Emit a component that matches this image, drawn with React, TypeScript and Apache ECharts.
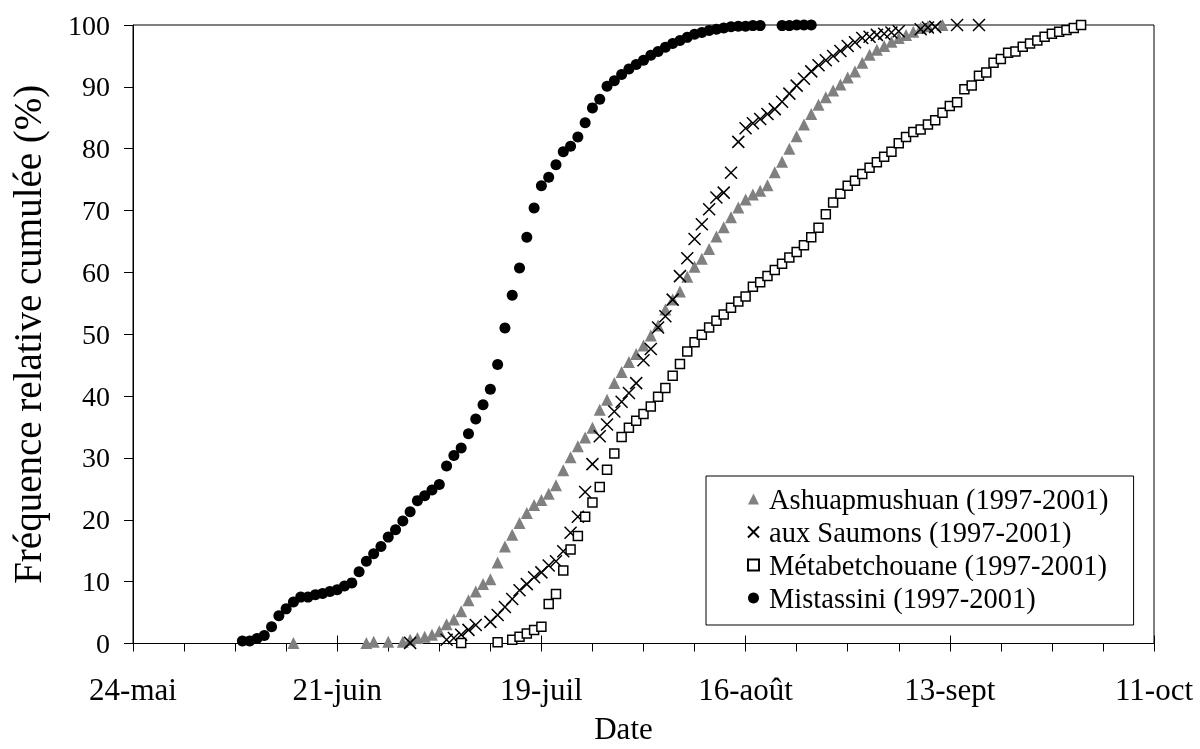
import { useEffect, useRef } from "react";
import * as echarts from "echarts";

// x values are days counted from 24 May
const tickLabels = ["24-mai", "21-juin", "19-juil", "16-août", "13-sept", "11-oct"];

const seriesNames = [
  "Ashuapmushuan (1997-2001)",
  "aux Saumons (1997-2001)",
  "Métabetchouane (1997-2001)",
  "Mistassini (1997-2001)",
];

const ashuapDays = [22, 32, 33, 35, 37, 38, 39, 40, 41, 42, 43, 44, 45, 46, 47, 48, 49, 50, 51, 52, 53, 54, 55, 56, 57, 58, 59, 60, 61, 62, 63, 64, 65, 66, 67, 68, 69, 70, 71, 72, 73, 74, 75, 76, 77, 78, 79, 80, 81, 82, 83, 84, 85, 86, 87, 88, 89, 90, 91, 92, 93, 94, 95, 96, 97, 98, 99, 100, 101, 102, 103, 104, 105, 106, 107, 108, 109, 111];
const ashuapPct = [0.1, 0.1, 0.3, 0.3, 0.3, 0.6, 0.9, 1.1, 1.4, 2.0, 3.1, 3.9, 5.2, 7.0, 8.4, 9.6, 10.4, 13.1, 15.7, 17.6, 19.5, 21.1, 22.4, 23.2, 24.2, 25.6, 28.0, 30.1, 31.9, 33.3, 34.9, 37.8, 39.4, 42.1, 43.9, 45.5, 46.8, 48.2, 49.8, 51.4, 54.0, 55.6, 56.9, 59.3, 60.9, 62.2, 63.8, 65.8, 67.3, 68.9, 70.5, 71.8, 72.6, 73.2, 74.1, 76.2, 77.9, 80.0, 82.0, 83.9, 85.6, 87.1, 88.3, 89.4, 90.4, 91.5, 92.5, 93.9, 95.2, 96.0, 96.6, 97.3, 97.9, 98.4, 98.9, 99.5, 99.8, 100];

const saumonsDays = [38, 43, 44, 45, 46, 47, 49, 50, 51, 52, 53, 54, 55, 56, 57, 58, 59, 60, 61, 62, 63, 64, 65, 66, 67, 68, 69, 70, 71, 72, 73, 74, 75, 76, 77, 78, 79, 80, 81, 82, 83, 84, 85, 86, 87, 88, 89, 90, 91, 92, 93, 94, 95, 96, 97, 98, 99, 100, 101, 102, 103, 104, 105, 108, 109, 110, 113, 116];
const saumonsPct = [0.1, 0.6, 0.9, 1.4, 2.2, 3.0, 3.5, 4.6, 5.9, 7.2, 8.6, 9.6, 10.7, 11.5, 12.6, 13.3, 14.9, 17.9, 20.5, 24.5, 29.0, 33.5, 35.4, 37.5, 39.1, 40.5, 42.1, 45.8, 47.6, 51.1, 52.9, 55.6, 59.4, 62.3, 65.4, 67.8, 70.2, 72.1, 72.9, 76.1, 81.1, 83.3, 84.1, 84.8, 85.6, 86.4, 87.6, 88.9, 90.2, 91.3, 92.5, 93.5, 94.3, 95.0, 95.8, 96.6, 97.2, 97.9, 98.1, 98.4, 98.6, 98.8, 99.0, 99.3, 99.6, 99.7, 100, 100];

const metabDays = [45, 50, 52, 53, 54, 55, 56, 57, 58, 59, 60, 61, 62, 63, 64, 65, 66, 67, 68, 69, 70, 71, 72, 73, 74, 75, 76, 77, 78, 79, 80, 81, 82, 83, 84, 85, 86, 87, 88, 89, 90, 91, 92, 93, 94, 95, 96, 97, 98, 99, 100, 101, 102, 103, 104, 105, 106, 107, 108, 109, 110, 111, 112, 113, 114, 115, 116, 117, 118, 119, 120, 121, 122, 123, 124, 125, 126, 127, 128, 129, 130];
const metabPct = [0.1, 0.2, 0.6, 1.1, 1.6, 2.2, 2.7, 6.4, 8.0, 11.8, 15.2, 17.4, 20.5, 22.8, 25.3, 28.1, 30.7, 33.4, 34.9, 36.0, 37.1, 38.3, 39.9, 41.3, 43.3, 45.2, 47.2, 48.7, 49.9, 51.1, 52.2, 53.2, 54.3, 55.3, 56.1, 57.7, 58.4, 59.4, 60.4, 61.4, 62.4, 63.3, 64.4, 65.7, 67.2, 69.4, 71.3, 72.7, 74.0, 74.8, 75.9, 76.9, 77.8, 78.7, 79.5, 80.9, 81.9, 82.7, 83.1, 83.9, 84.6, 85.8, 86.9, 87.5, 89.6, 90.2, 91.8, 92.3, 93.9, 94.5, 95.5, 95.7, 96.5, 97.0, 97.5, 98.1, 98.6, 98.9, 99.2, 99.5, 100];

const mistDays = [15, 16, 17, 18, 19, 20, 21, 22, 23, 24, 25, 26, 27, 28, 29, 30, 31, 32, 33, 34, 35, 36, 37, 38, 39, 40, 41, 42, 43, 44, 45, 46, 47, 48, 49, 50, 51, 52, 53, 54, 55, 56, 57, 58, 59, 60, 61, 62, 63, 64, 65, 66, 67, 68, 69, 70, 71, 72, 73, 74, 75, 76, 77, 78, 79, 80, 81, 82, 83, 84, 85, 86, 89, 90, 91, 92, 93];
const mistPct = [0.4, 0.4, 0.8, 1.3, 2.7, 4.5, 5.6, 6.7, 7.5, 7.5, 7.9, 8.1, 8.4, 8.7, 9.3, 9.8, 11.6, 13.3, 14.5, 15.7, 17.2, 18.4, 19.8, 21.3, 23.1, 23.9, 24.8, 25.7, 28.7, 30.4, 31.6, 33.9, 36.3, 38.6, 41.1, 45.1, 51.0, 56.3, 60.7, 65.7, 70.4, 74.0, 75.4, 77.4, 79.5, 80.4, 81.9, 84.2, 86.6, 88.0, 90.1, 91.0, 92.0, 92.9, 93.6, 94.3, 95.1, 95.7, 96.4, 97.0, 97.5, 98.0, 98.5, 98.8, 99.1, 99.3, 99.5, 99.7, 99.8, 99.8, 99.9, 99.9, 99.9, 99.9, 100, 100, 100];

const pairs = (xs: number[], ys: number[]) => xs.map((x, i) => [x, ys[i]]);

const FONT = "Liberation Serif";
const CROSS = "path://M0,0L10,10M10,0L0,10";

export default function App() {
  const ref = useRef<HTMLDivElement>(null);
  useEffect(() => {
    document.documentElement.style.overflow = "hidden";
    document.body.style.margin = "0";
    document.body.style.overflow = "hidden";
    const chart = echarts.init(ref.current!, null, { renderer: "svg" });
    chart.setOption({
      animation: false,
      textStyle: { fontFamily: FONT, fontSize: 28 },
      grid: {
        left: 133,
        top: 25,
        right: 46,
        bottom: 97,
        show: true,
        borderColor: "#000",
        borderWidth: 1,
      },
      legend: {
        orient: "vertical",
        left: 706,
        top: 476,
        padding: [8, 25, 12, 41],
        itemWidth: 11,
        itemHeight: 11,
        itemGap: 3,
        borderColor: "#000",
        borderWidth: 1,
        borderRadius: 0,
        backgroundColor: "#fff",
        textStyle: { fontFamily: FONT, fontSize: 28.5, color: "#000", lineHeight: 30, padding: [0, 0, 0, 5] },
        data: seriesNames,
      },
      xAxis: [
        {
          type: "value",
          min: 0,
          max: 140,
          interval: 28,
          axisLine: { show: true, lineStyle: { color: "#000", width: 1 } },
          axisTick: { show: true, length: 8, lineStyle: { color: "#000" } },
          minorTick: { show: true, splitNumber: 4, length: 8, lineStyle: { color: "#000" } },
          splitLine: { show: false },
          minorSplitLine: { show: false },
          axisLabel: {
            fontFamily: FONT,
            fontSize: 31,
            color: "#000",
            margin: 30,
            formatter: (v: number) => tickLabels[Math.round(v / 28)] ?? "",
          },
          name: "Date",
          nameLocation: "middle",
          nameGap: 73,
          nameTextStyle: { fontFamily: FONT, fontSize: 31, lineHeight: 24, color: "#000", padding: [0, 40, 0, 0] },
        },
        {
          type: "value",
          min: 0,
          max: 140,
          interval: 28,
          position: "bottom",
          axisLine: { show: false },
          axisTick: { show: true, inside: true, length: 8, lineStyle: { color: "#000" } },
          axisLabel: { show: false },
          splitLine: { show: false },
        },
      ],
      yAxis: {
        type: "value",
        min: 0,
        max: 100,
        interval: 10,
        axisLine: { show: true, lineStyle: { color: "#000", width: 1 } },
        axisTick: { show: true, length: 9, lineStyle: { color: "#000" } },
        splitLine: { show: false },
        axisLabel: { fontFamily: FONT, fontSize: 28, color: "#000", margin: 23 },
        name: "Fréquence relative cumulée (%)",
        nameLocation: "middle",
        nameGap: 86,
        nameTextStyle: { fontFamily: FONT, fontSize: 39, color: "#000" },
      },
      series: [
        {
          name: seriesNames[0],
          type: "scatter",
          symbol: "triangle",
          symbolSize: 12,
          itemStyle: { color: "#808080", opacity: 1 },
          data: pairs(ashuapDays, ashuapPct),
        },
        {
          name: seriesNames[1],
          type: "scatter",
          symbol: CROSS,
          symbolSize: 12,
          itemStyle: { color: "transparent", borderColor: "#000", borderWidth: 1.5, opacity: 1 },
          data: pairs(saumonsDays, saumonsPct),
        },
        {
          name: seriesNames[2],
          type: "scatter",
          symbol: "rect",
          symbolSize: 9,
          itemStyle: { color: "#fff", borderColor: "#000", borderWidth: 1.5, opacity: 1 },
          data: pairs(metabDays, metabPct),
        },
        {
          name: seriesNames[3],
          type: "scatter",
          symbol: "circle",
          symbolSize: 11,
          itemStyle: { color: "#000", opacity: 1 },
          data: pairs(mistDays, mistPct),
        },
      ],
    });
    return () => chart.dispose();
  }, []);
  return (
    <div style={{ position: "fixed", left: 0, top: 0, width: 1200, height: 749, overflow: "hidden" }}>
      <div ref={ref} style={{ width: 1200, height: 749 }} />
    </div>
  );
}
